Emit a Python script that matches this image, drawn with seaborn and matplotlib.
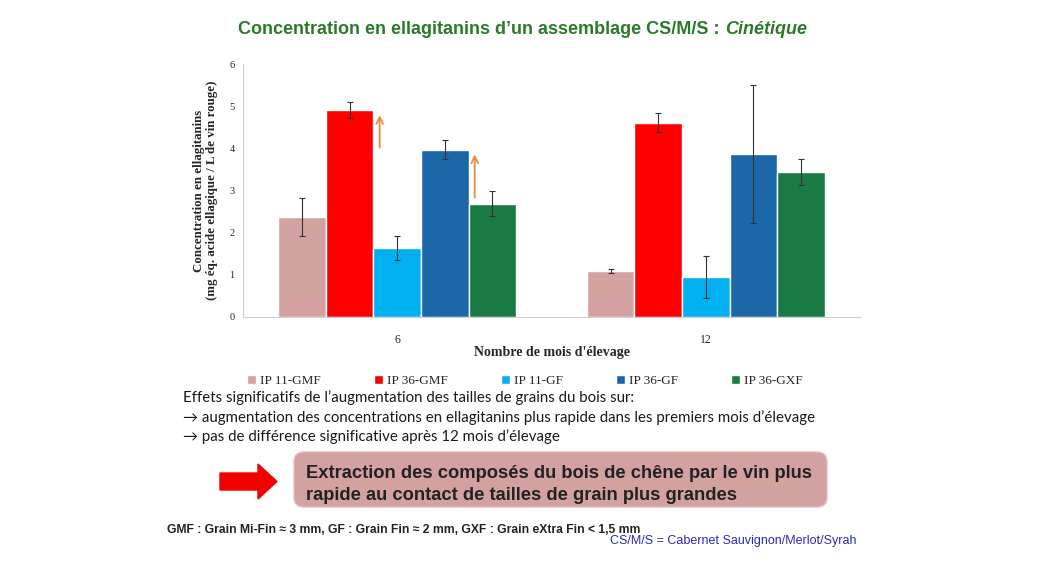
import matplotlib
matplotlib.use("Agg")
import matplotlib.pyplot as plt
import matplotlib.patches as mpatches
import numpy as np
import pandas as pd
import seaborn as sns

# data
months = ["6", "12"]
series = ["IP 11-GMF", "IP 36-GMF", "IP 11-GF", "IP 36-GF", "IP 36-GXF"]
conc_6 = [2.37, 4.91, 1.63, 3.97, 2.69]
conc_12 = [1.10, 4.61, 0.94, 3.86, 3.44]
err_6 = [0.46, 0.18, 0.29, 0.22, 0.29]
err_12 = [0.05, 0.22, 0.50, 1.64, 0.31]
colors = ["#d4a1a1", "#ff0000", "#00b0f0", "#1c67a8", "#1a7a44"]

sns.set_theme(style="white")
plt.rcParams['font.family'] = ['Liberation Serif', 'DejaVu Serif']

df = pd.DataFrame({
    "mois": months[0:1] * 5 + months[1:2] * 5,
    "serie": series * 2,
    "conc": conc_6 + conc_12,
})
errs = {m: dict(zip(series, e)) for m, e in zip(months, [err_6, err_12])}

W, H = 1050, 576
fig = plt.figure(figsize=(W / 100, H / 100), dpi=100)
ax = fig.add_axes([243 / W, 1 - 317 / H, (860 - 243) / W, (317 - 64) / H])

sns.barplot(data=df, x="mois", y="conc", hue="serie", order=months,
            hue_order=series, palette=colors, width=0.77, errorbar=None,
            saturation=1, ax=ax, legend=True)

# error bars at the bar centres
for cont, s in zip(ax.containers, series):
    xs = [b.get_x() + b.get_width() / 2 for b in cont]
    ys = [b.get_height() for b in cont]
    es = [errs[m][s] for m in months]
    ax.errorbar(xs, ys, yerr=es, fmt="none", ecolor="#333333",
                elinewidth=0.8, capsize=2, capthick=0.8)

# orange arrows next to the 36 series at 6 months
red_bar = ax.containers[1][0]
blue_bar = ax.containers[3][0]
for bar, y0, y1 in [(red_bar, 3.95, 4.85), (blue_bar, 2.77, 3.92)]:
    xa = bar.get_x() + bar.get_width() + 0.02
    ax.annotate("", xy=(xa, y1), xytext=(xa, y0),
                arrowprops=dict(arrowstyle="->", color="#f0883a", lw=1.3))

ax.set_ylim(0, 6)
ax.set_xlim(-0.5, 1.5)
ax.set_yticks(range(0, 7))
ax.tick_params(axis="y", labelsize=7.5, length=2, color="#bbbbbb", pad=4)
ax.tick_params(axis="x", labelsize=8.5, length=0, pad=12)
for sp in ["top", "right"]:
    ax.spines[sp].set_visible(False)
for sp in ["left", "bottom"]:
    ax.spines[sp].set_color("#d0d0d0")
    ax.spines[sp].set_linewidth(0.8)
ax.set_xlabel("Nombre de mois d'élevage", fontsize=10, fontweight="bold", labelpad=0)
ax.set_ylabel("Concentration en ellagitanins\n(mg éq. acide ellagique / L de vin rouge)",
              fontsize=9.3, fontweight="bold", labelpad=8, linespacing=1.2)

handles, labels = ax.get_legend_handles_labels()
ax.get_legend().remove()
fig.legend(handles, labels, loc="center", bbox_to_anchor=(525 / W, 1 - 381 / H),
           ncol=5, frameon=False, handlelength=0.7, handleheight=0.7,
           handletextpad=0.3, columnspacing=4.0, prop={"size": 9.5})

def fx(x):
    return x / W

def fy(y):
    return 1 - y / H

sans = ["Liberation Sans", "DejaVu Sans"]

# title in two pieces (bold + bold italic)
t1 = fig.text(fx(238), fy(30), "Concentration en ellagitanins d’un assemblage CS/M/S : ",
              color="#2b7a2b", fontsize=13, fontweight="bold",
              family=sans, va="center", ha="left")
fig.canvas.draw()
bb = t1.get_window_extent()
fig.text(bb.x1 / W, fy(30), "Cinétique", color="#2b7a2b", fontsize=13,
         fontweight="bold", style="italic", family=sans,
         va="center", ha="left")

body = ["Lato", "DejaVu Sans"]
lines = [
    (398, "Effets significatifs de l’augmentation des tailles de grains du bois sur:"),
    (418, "→ augmentation des concentrations en ellagitanins plus rapide dans les premiers mois d’élevage"),
    (437, "→ pas de différence significative après 12 mois d’élevage"),
]
for y, s in lines:
    fig.text(fx(183), fy(y), s, fontsize=10.8, family=body, color="#1a1a1a",
             va="center", ha="left")

box = mpatches.FancyBboxPatch((2.94, (H - 507) / 100), 8.27 - 2.94, 0.55,
                              boxstyle="round,pad=0,rounding_size=0.1",
                              transform=fig.dpi_scale_trans, facecolor="#d4a1a1",
                              edgecolor="#e2bcbc", linewidth=1)
fig.add_artist(box)
for y, s in [(473, "Extraction des composés du bois de chêne par le vin plus"),
             (495, "rapide au contact de tailles de grain plus grandes")]:
    fig.text(fx(306), fy(y), s, fontsize=13.2, fontweight="bold", color="#222222",
             family=sans, va="center", ha="left")

arrow = mpatches.FancyArrow(2.20, (H - 481.5) / 100, 0.57, 0, width=0.17,
                            head_width=0.35, head_length=0.19,
                            length_includes_head=True, transform=fig.dpi_scale_trans,
                            facecolor="#f20000", edgecolor="#f20000")
fig.add_artist(arrow)

fig.text(fx(167), fy(530), "GMF : Grain Mi-Fin ≈ 3 mm, GF : Grain Fin ≈ 2 mm, GXF : Grain eXtra Fin < 1,5 mm",
         fontsize=8.7, fontweight="bold", color="#222222",
         family=sans, va="center", ha="left")
fig.text(fx(857), fy(541), "CS/M/S = Cabernet Sauvignon/Merlot/Syrah",
         fontsize=9, color="#2a2ab8", family=sans,
         va="center", ha="right")

fig.savefig("out.png", dpi=100)
